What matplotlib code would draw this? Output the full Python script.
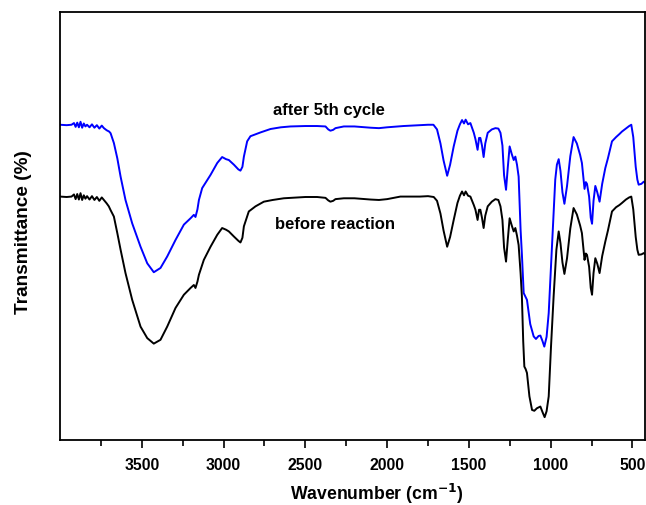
import numpy as np
import matplotlib.pyplot as plt

plt.rcParams['font.family'] = ['Liberation Sans', 'DejaVu Sans']
plt.rcParams['font.weight'] = 'bold'

# FTIR spectra, wavenumber (cm-1) vs transmittance (arbitrary offset)
wn_after = [4000, 3960, 3930, 3915, 3905, 3895, 3885, 3875, 3865, 3855, 3845, 3835,
            3820, 3805, 3790, 3775, 3760, 3745, 3732, 3715, 3700, 3691, 3671, 3650,
            3630, 3600, 3559, 3508, 3467, 3427, 3386, 3345, 3294, 3243, 3202, 3182,
            3172, 3160, 3151, 3131, 3080, 3039, 3009, 2985, 2968, 2937, 2910, 2897,
            2885, 2876, 2856, 2836, 2815, 2774, 2713, 2650, 2591, 2500, 2428, 2377,
            2360, 2347, 2330, 2316, 2265, 2200, 2100, 2050, 2000, 1900, 1800, 1750,
            1717, 1695, 1674, 1655, 1633, 1615, 1593, 1570, 1555, 1542, 1530, 1520,
            1505, 1491, 1470, 1460, 1447, 1438, 1430, 1420, 1410, 1400, 1385, 1360,
            1338, 1320, 1307, 1295, 1285, 1273, 1262, 1251, 1238, 1226, 1216, 1206,
            1196, 1184, 1176, 1165, 1155, 1145, 1125, 1104, 1090, 1074, 1063, 1050,
            1039, 1025, 1012, 992, 972, 962, 951, 940, 928, 916, 900, 880, 860, 840,
            820, 809, 793, 785, 778, 765, 755, 747, 738, 727, 715, 701, 685, 666, 650,
            625, 600, 580, 564, 540, 520, 507, 495, 480, 470, 462, 445, 431, 425]
t_after = [73.9, 73.8, 73.9, 74.3, 73.4, 74.4, 73.3, 74.6, 73.2, 74.2, 73.5, 73.9,
           73.3, 74.0, 73.2, 73.8, 73.0, 73.7, 73.1, 72.6, 72.3, 71.9, 69.6, 66.0,
           61.7, 56.2, 50.7, 45.2, 41.3, 39.2, 40.2, 42.9, 46.8, 50.4, 51.9, 52.7,
           52.2, 54.0, 56.2, 59.0, 62.1, 64.9, 66.3, 65.8, 65.6, 64.5, 63.4, 63.1,
           64.0, 66.4, 70.0, 71.2, 71.5, 72.1, 72.9, 73.3, 73.5, 73.6, 73.6, 73.5,
           72.8, 72.5, 72.7, 73.1, 73.5, 73.5, 73.2, 73.1, 73.3, 73.6, 73.8, 73.9,
           73.9, 72.8, 69.5, 65.5, 61.9, 64.5, 68.8, 72.5, 74.0, 75.0, 74.2, 75.1,
           74.0, 74.3, 72.0, 70.5, 68.0, 70.8, 70.8, 69.0, 66.3, 69.5, 72.0, 72.8,
           73.1, 73.0, 72.0, 69.0, 62.0, 58.6, 64.0, 68.8, 67.0, 65.6, 66.4, 64.5,
           61.7, 49.2, 43.4, 34.3, 33.5, 32.7, 27.0, 24.1, 23.5, 24.2, 24.3, 23.0,
           21.7, 24.0, 29.6, 45.2, 61.0, 64.5, 65.8, 63.0, 58.0, 55.3, 59.5, 66.5,
           71.0, 69.5, 66.8, 64.9, 58.8, 60.4, 60.0, 57.0, 52.0, 50.6, 56.0, 59.5,
           58.0, 55.8, 60.0, 63.7, 66.0, 70.0, 71.0, 71.7, 72.3, 73.0, 73.6, 73.9,
           71.0, 64.0, 61.0, 59.8, 60.0, 60.5, 60.3]

wn_before = [4000, 3960, 3930, 3915, 3905, 3895, 3885, 3875, 3865, 3855, 3845, 3835,
             3820, 3805, 3790, 3775, 3760, 3745, 3732, 3715, 3702, 3691, 3671, 3650,
             3630, 3600, 3559, 3508, 3467, 3427, 3386, 3345, 3294, 3243, 3202, 3182,
             3172, 3160, 3151, 3121, 3080, 3039, 3009, 2985, 2968, 2937, 2910, 2897,
             2885, 2876, 2846, 2805, 2754, 2700, 2632, 2500, 2428, 2377, 2360, 2347,
             2330, 2316, 2265, 2200, 2100, 2050, 2000, 1919, 1800, 1750, 1715, 1695,
             1674, 1655, 1633, 1615, 1593, 1570, 1555, 1542, 1530, 1520, 1505, 1491,
             1470, 1460, 1447, 1438, 1430, 1420, 1410, 1400, 1385, 1360, 1338, 1320,
             1307, 1295, 1285, 1273, 1262, 1251, 1238, 1226, 1216, 1206, 1196, 1184,
             1176, 1168, 1161, 1153, 1145, 1130, 1114, 1100, 1084, 1063, 1050, 1037,
             1025, 1012, 998, 982, 965, 951, 940, 928, 916, 900, 880, 860, 840, 820,
             809, 793, 785, 778, 765, 755, 747, 738, 727, 715, 701, 685, 666, 650,
             625, 600, 580, 564, 540, 520, 507, 495, 480, 470, 462, 445, 431, 425]
t_before = [57.0, 56.9, 57.0, 57.5, 56.4, 57.6, 56.3, 57.8, 56.2, 57.3, 56.5, 57.1,
            56.3, 57.1, 56.2, 56.9, 56.0, 56.8, 56.2, 55.4, 54.7, 53.8, 52.3, 48.4,
            44.5, 39.0, 32.7, 26.4, 23.7, 22.4, 23.3, 26.4, 30.8, 33.9, 35.5, 36.2,
            35.5, 37.0, 38.6, 42.1, 45.2, 48.0, 49.6, 49.2, 48.8, 47.6, 46.6, 46.2,
            47.3, 50.0, 53.5, 54.7, 55.8, 56.2, 56.6, 56.9, 56.9, 56.7, 56.1, 55.8,
            56.0, 56.4, 56.6, 56.6, 56.3, 56.2, 56.4, 57.0, 57.0, 57.1, 56.9, 56.0,
            53.0, 49.0, 45.2, 47.5, 51.5, 55.5, 57.2, 58.2, 57.3, 58.2, 57.2, 57.0,
            55.0, 53.9, 51.5, 53.9, 53.9, 52.0, 49.6, 52.5, 54.7, 55.8, 56.4, 56.2,
            54.7, 51.5, 45.0, 41.7, 47.0, 51.9, 50.2, 48.8, 49.6, 47.8, 45.6, 39.0,
            33.5, 23.0, 17.0, 16.4, 15.5, 10.0, 6.8, 6.6, 7.2, 7.6, 6.3, 5.1,
            6.5, 10.0, 21.7, 33.5, 44.5, 48.8, 46.0, 41.5, 38.8, 42.5, 49.5, 54.3,
            52.8, 50.2, 48.4, 42.1, 43.6, 43.3, 40.5, 35.5, 33.9, 39.0, 42.5, 41.2,
            39.0, 43.0, 46.4, 49.0, 53.5, 54.5, 55.0, 55.5, 56.3, 56.8, 57.0, 54.0,
            47.5, 44.5, 43.3, 43.4, 43.7, 43.5]

fig = plt.figure(figsize=(6.46, 5.05), dpi=100)
ax = fig.add_axes([0.093, 0.129, 0.905, 0.847])

ax.plot(wn_after, t_after, color='#0000ff', lw=1.4)
ax.plot(wn_before, t_before, color='black', lw=1.4)

ax.text(2697, 77.3, 'after 5th cycle', fontsize=12, fontweight='bold', va='center')
ax.text(2683, 50.5, 'before reaction', fontsize=12, fontweight='bold', va='center')

ax.set_xlim(4000, 425)
ax.set_ylim(-0.24, 100.4)
ax.set_xticks([3500, 3000, 2500, 2000, 1500, 1000, 500])
ax.set_xticks([3750, 3250, 2750, 2250, 1750, 1250, 750], minor=True)
ax.set_yticks([])
ax.tick_params(axis='x', which='major', direction='out', length=6, width=1.2,
               labelsize=11.3, pad=7)
ax.tick_params(axis='x', which='minor', direction='out', length=4, width=1.2)
for lbl in ax.get_xticklabels():
    lbl.set_fontweight('bold')
for s in ax.spines.values():
    s.set_linewidth(1.3)

ax.set_xlabel('Wavenumber (cm$^{\\mathbf{-1}}$)', fontsize=12.7, fontweight='bold',
              va='center')
ax.xaxis.set_label_coords(0.542, -0.126)
ax.set_ylabel('Transmittance (%)', fontsize=13.7, fontweight='bold', va='center')
ax.yaxis.set_label_coords(-0.062, 0.486)

fig.savefig('out.png', dpi=100)
